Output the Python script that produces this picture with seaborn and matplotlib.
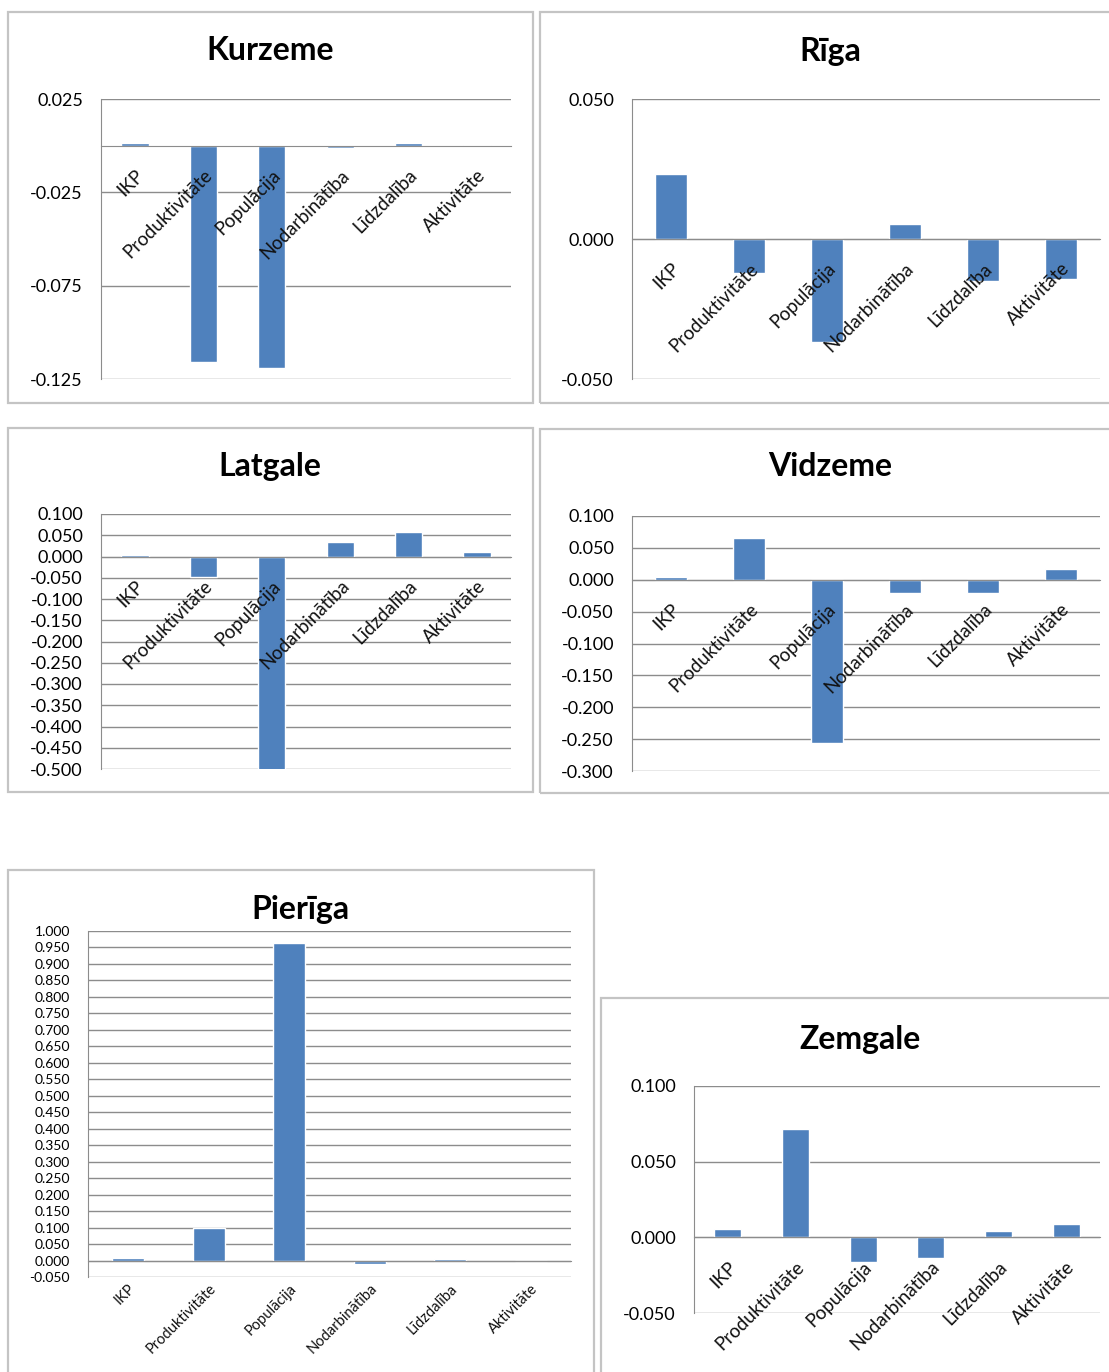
import numpy as np
import pandas as pd
import matplotlib
matplotlib.use("Agg")
import matplotlib.pyplot as plt
import seaborn as sns
from matplotlib.patches import Rectangle
from matplotlib.ticker import FormatStrFormatter

sns.set_style("white")
plt.rcParams['font.family'] = ['Lato', 'DejaVu Sans']

categories = ["IKP", "Produktivitāte", "Populācija", "Nodarbinātība", "Līdzdalība", "Aktivitāte"]

# values
kurzeme = [0.0015, -0.116, -0.119, -0.001, 0.0015, 0.0003]
riga = [0.0232, -0.012, -0.0368, 0.0054, -0.015, -0.0143]
latgale = [0.004, -0.048, -0.502, 0.034, 0.058, 0.011]
vidzeme = [0.004, 0.065, -0.256, -0.021, -0.021, 0.017]
pieriga = [0.009, 0.100, 0.964, -0.012, 0.004, -0.002]
zemgale = [0.0053, 0.0715, -0.0166, -0.0139, 0.004, 0.0086]

# y range per panel: (top, bottom, number of ticks)
kurzeme_y = (0.025, -0.125, 4)
riga_y = (0.050, -0.050, 3)
latgale_y = (0.100, -0.500, 13)
vidzeme_y = (0.100, -0.300, 9)
pieriga_y = (1.000, -0.050, 22)
zemgale_y = (0.100, -0.050, 4)

W, H = 1109, 1372
BAR = "#4F81BD"
GRID = "#8C8C8C"

fig = plt.figure(figsize=(W / 100, H / 100), dpi=100)

# name, data, y range, axes box px, frame box px, title px, tick size, label size
panels = [
    ("Kurzeme", kurzeme, kurzeme_y, (101, 99, 511, 379), (8, 12, 533, 403), (270, 51), 13, 13.5),
    ("Rīga", riga, riga_y, (632, 99, 1100, 379), (540, 12, 1112, 403), (830, 51), 13, 13.5),
    ("Latgale", latgale, latgale_y, (101, 514, 511, 769), (8, 428, 533, 792), (270, 467), 13, 13.5),
    ("Vidzeme", vidzeme, vidzeme_y, (632, 516, 1100, 771), (540, 429, 1112, 793), (830, 467), 13, 13.5),
    ("Pierīga", pieriga, pieriga_y, (88, 931, 571, 1277), (8, 870, 594, 1380), (300, 909), 10, 10.5),
    ("Zemgale", zemgale, zemgale_y, (694, 1086, 1100, 1313), (601, 998, 1112, 1380), (860, 1039), 13, 13.5),
]

for name, vals, (top, bot, n), (l, t, r, b), (fl, ft, fr, fb), (tx, ty), tsize, lsize in panels:
    # chart frame like in excel
    fig.add_artist(Rectangle((fl / W, 1 - fb / H), (fr - fl) / W, (fb - ft) / H,
                             transform=fig.transFigure, fill=False,
                             edgecolor="#C4C4C4", lw=1.6))
    ax = fig.add_axes([l / W, 1 - b / H, (r - l) / W, (b - t) / H])
    df = pd.DataFrame({"cat": categories, "val": vals})
    sns.barplot(data=df, x="cat", y="val", color=BAR, saturation=1,
                width=0.4, ax=ax, zorder=2)
    ax.set_xlim(-0.5, 5.5)
    ax.set_ylim(bot, top)
    ticks = np.round(np.linspace(top, bot, n), 3) + 0.0
    ax.set_yticks(ticks)
    ax.yaxis.set_major_formatter(FormatStrFormatter('%.3f'))
    # gridlines behind the bars, axis labels on top of them
    for tk in ticks:
        ax.axhline(tk, color=GRID, lw=1, zorder=0.5)
    ax.set_axisbelow(False)
    for s in ["top", "right"]:
        ax.spines[s].set_visible(False)
    ax.spines["left"].set_color(GRID)
    ax.spines["bottom"].set_color(GRID)
    ax.spines["bottom"].set_linewidth(0.8)
    ax.spines["bottom"].set_position(("data", 0))
    ax.tick_params(axis="y", length=4, color=GRID, labelsize=tsize, pad=9,
                   labelcolor="black")
    ax.set_xticks(range(6))
    ax.set_xticklabels(categories, rotation=45, ha="right", rotation_mode="anchor",
                       fontsize=lsize, color="#111111")
    ax.set_xticks(np.arange(-0.5, 6, 1), minor=True)
    ax.tick_params(axis="x", which="major", length=0, pad=15)
    ax.tick_params(axis="x", which="minor", length=4, color=GRID, direction="out")
    ax.set_xlabel("")
    ax.set_ylabel("")
    fig.text(tx / W, 1 - ty / H, name, ha="center", va="center",
             fontsize=23, fontweight="bold", color="black")

fig.savefig("out.png", dpi=100)
